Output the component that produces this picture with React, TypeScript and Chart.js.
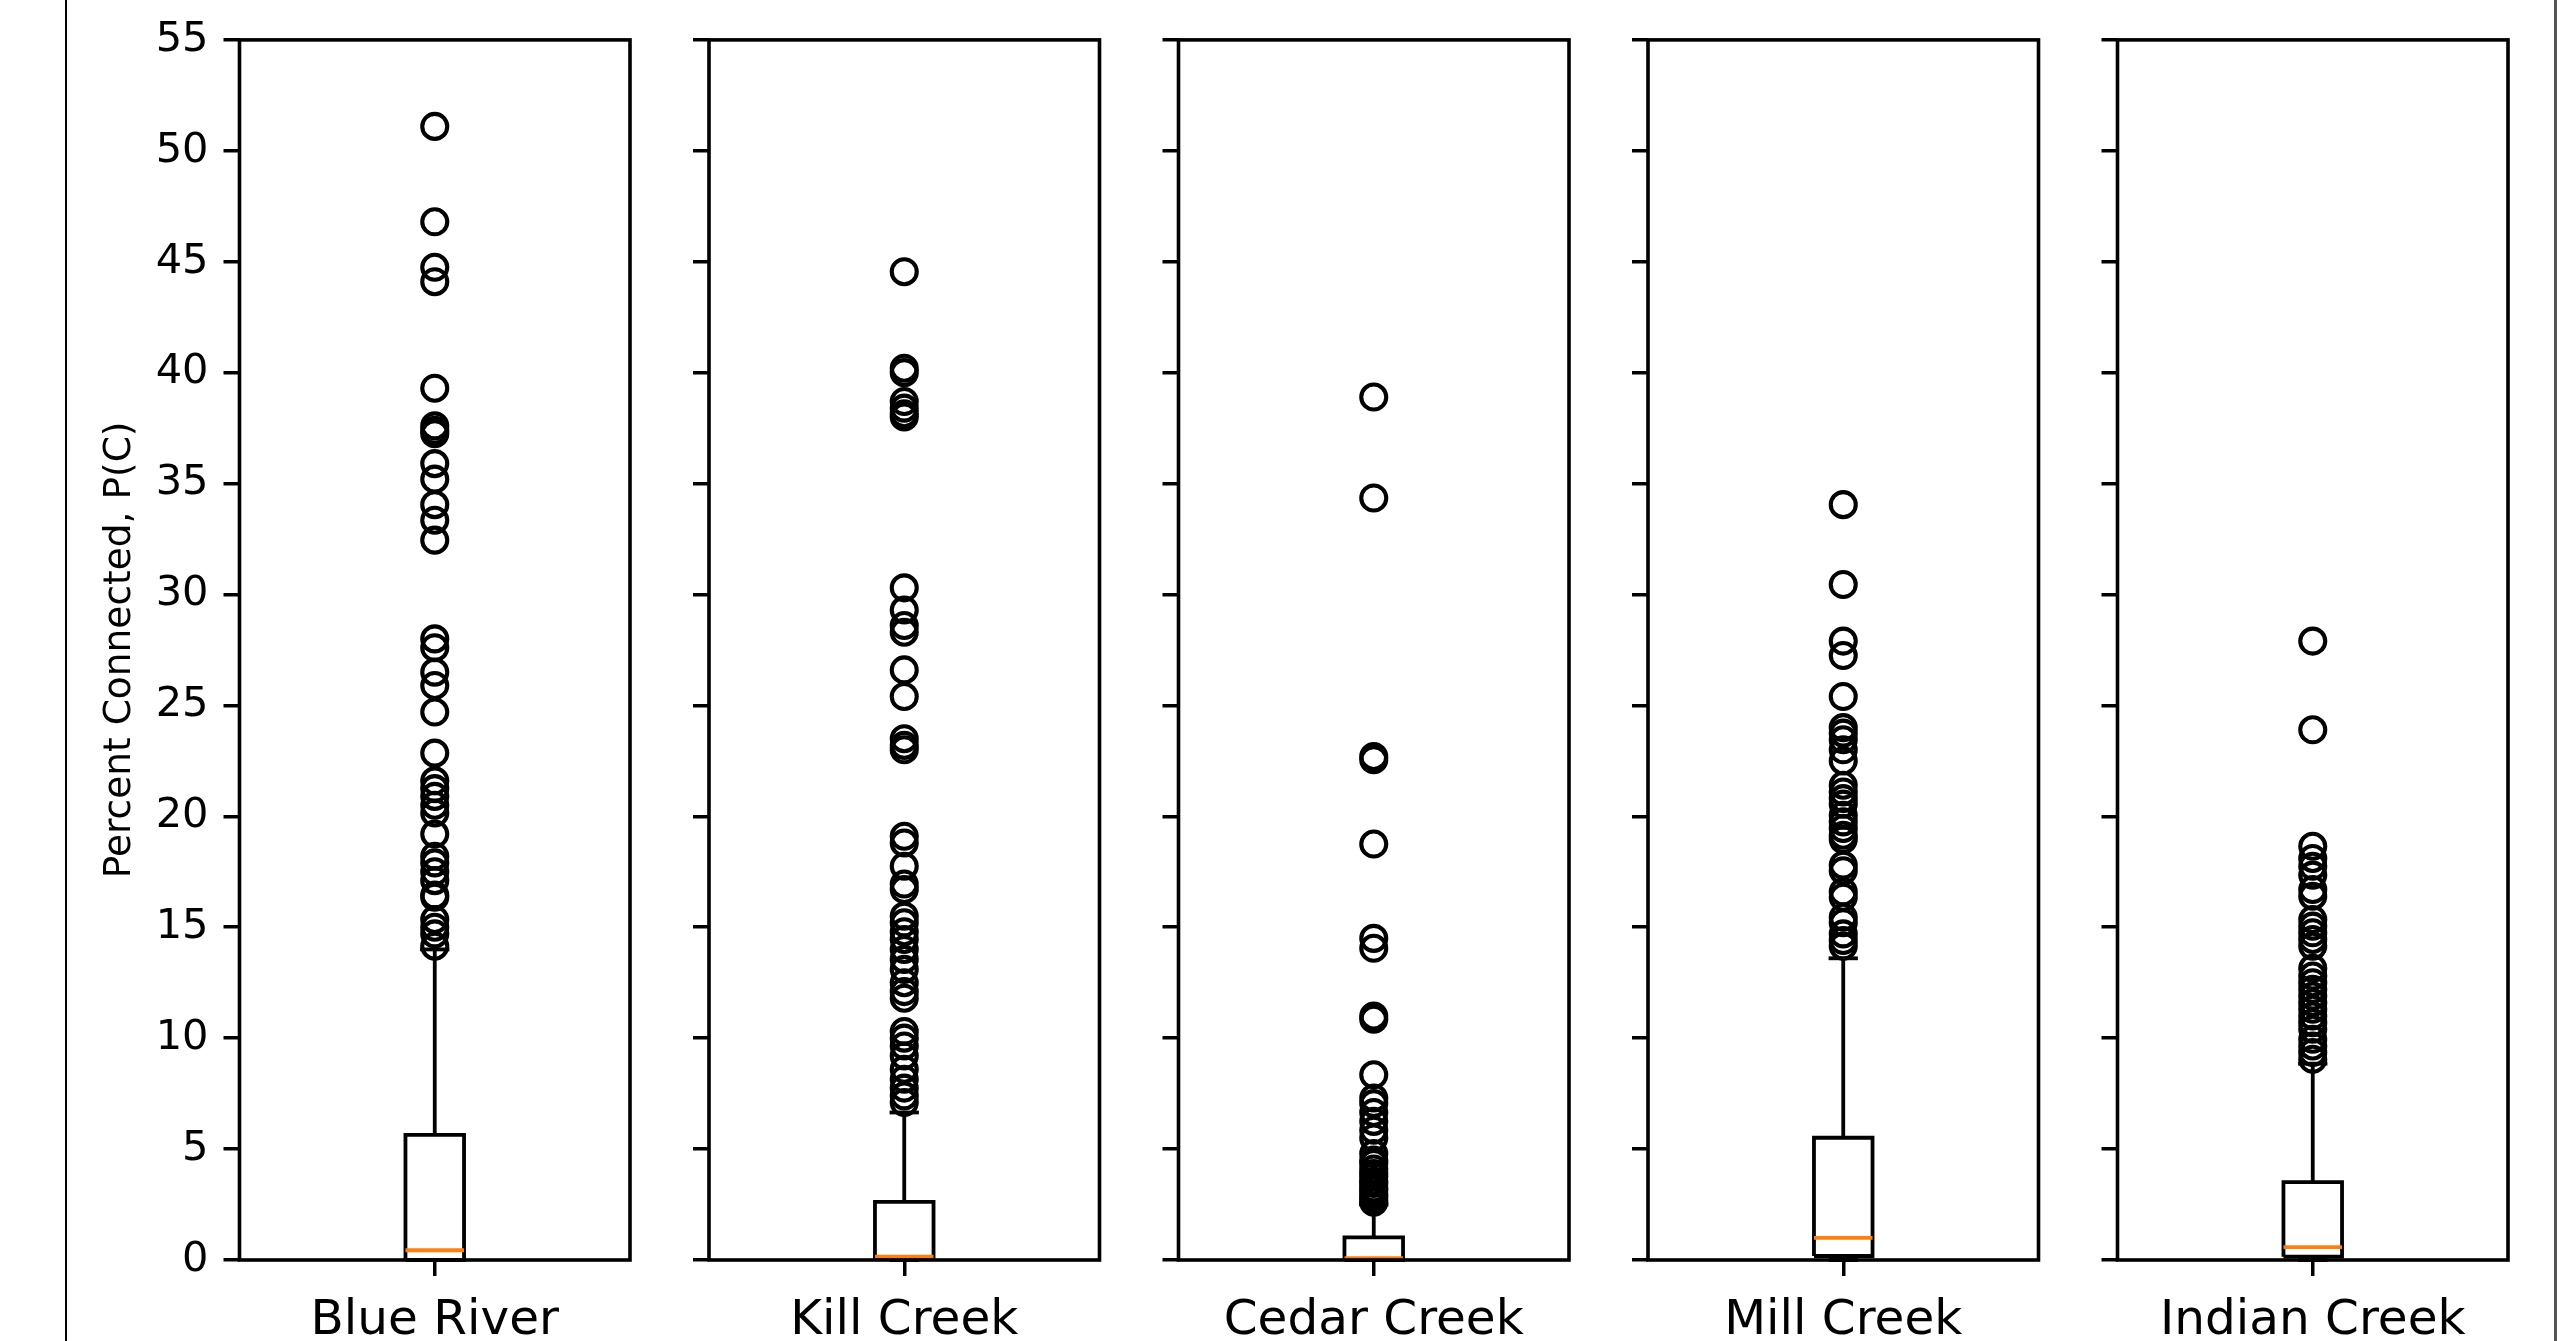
import { useEffect, useRef } from 'react';
import { Chart, registerables } from 'chart.js';

Chart.register(...registerables);

// ---------------- data ----------------
const categories = ['Blue River', 'Kill Creek', 'Cedar Creek', 'Mill Creek', 'Indian Creek'];
const whiskerLow = [0, 0, 0, 0, 0];
const boxLow = [0.0, 0.05, 0.0, 0.18, 0.15];
const medians = [0.44, 0.15, 0.08, 1.0, 0.58];
const boxHigh = [5.64, 2.62, 1.02, 5.51, 3.51];
const whiskerHigh = [14.0, 6.65, 2.5, 13.6, 8.85];

const blueRiverOutliers = [
  51.1, 46.8, 44.75, 44.1, 39.3, 37.6, 37.4, 37.25, 35.9, 35.2, 34.05, 33.35, 32.45,
  28.0, 27.6, 26.5, 25.9, 24.7, 22.85, 21.6, 21.25, 20.9, 20.5, 20.15, 19.2, 18.2,
  17.9, 17.5, 17.1, 16.45, 16.35, 15.35, 15.0, 14.7, 14.15,
];
const killCreekOutliers = [
  44.55, 40.2, 40.0, 38.7, 38.4, 38.15, 38.0, 30.3, 29.3, 28.6, 28.3, 26.6, 25.4,
  23.5, 23.2, 23.0, 19.1, 18.8, 17.75, 16.95, 16.7, 15.5, 15.2, 14.8, 14.45, 14.0,
  13.55, 13.1, 12.5, 12.1, 11.8, 10.3, 10.0, 9.65, 9.2, 8.6, 8.15, 7.75, 7.4, 7.1,
];
const cedarCreekOutliers = [
  38.9, 34.35, 22.7, 22.55, 18.75, 14.5, 14.05, 11.0, 10.85, 8.35, 7.3, 7.05, 6.65,
  6.25, 5.85, 5.5, 4.8, 4.5, 4.35, 4.1, 3.9, 3.75, 3.55, 3.45, 3.25, 3.15, 2.95,
  2.85, 2.7, 2.6,
];
const millCreekOutliers = [
  34.05, 30.45, 27.9, 27.25, 25.4, 24.0, 23.75, 23.45, 23.0, 22.5, 21.4, 21.1, 20.8,
  20.55, 20.05, 19.75, 19.45, 19.15, 18.95, 17.8, 17.55, 16.6, 16.35, 15.45, 15.2,
  14.7, 14.4, 14.15,
];
const indianCreekOutliers = [
  27.9, 23.9, 18.65, 18.1, 17.75, 17.35, 16.7, 16.4, 15.35, 15.05, 14.75, 14.45,
  14.15, 13.15, 12.8, 12.5, 12.2, 11.9, 11.6, 11.3, 11.0, 10.7, 10.4, 9.95, 9.65,
  9.35, 9.05,
];
const outlierSeries = [
  blueRiverOutliers,
  killCreekOutliers,
  cedarCreekOutliers,
  millCreekOutliers,
  indianCreekOutliers,
];

const yTickValues = [0, 5, 10, 15, 20, 25, 30, 35, 40, 45, 50, 55];
const yTitle = 'Percent Connected, P(C)';

// ---------------- layout / style ----------------
const FIG_W = 2570;
const FIG_H = 1341;
const PLOT_TOP = 39.5;
const PLOT_BOTTOM = 1260;
const PANEL_LEFT0 = 239.5;
const PANEL_STEP = 469.5;
const PANEL_W = 390.5;
const POS = 1;
const BOX_HALF = 0.075;
const CAP_HALF = 0.0375;
const FONT = "'DejaVu Sans', 'Liberation Sans', sans-serif";
const LW = 3.8;
const ORANGE = '#ff7f0e';

const framePlugin = {
  id: 'frame',
  afterDraw(chart: any) {
    const { ctx, chartArea } = chart;
    ctx.save();
    ctx.strokeStyle = '#000';
    ctx.lineWidth = 3.6;
    ctx.lineJoin = 'miter';
    ctx.strokeRect(
      chartArea.left,
      chartArea.top,
      chartArea.right - chartArea.left,
      chartArea.bottom - chartArea.top
    );
    ctx.restore();
  },
};

function geometry(index: number) {
  const left = PANEL_LEFT0 + PANEL_STEP * index;
  const canvasLeft = index === 0 ? 0 : Math.floor(left - 40);
  const axisW = left - canvasLeft;
  const canvasW = Math.ceil(axisW + PANEL_W + 30);
  const padRight = canvasW - axisW - PANEL_W;
  return { canvasLeft, axisW, canvasW, padRight };
}

function segment(points: { x: number; y: number }[], color: string) {
  return {
    type: 'scatter' as const,
    data: points,
    showLine: true,
    borderColor: color,
    backgroundColor: color,
    borderWidth: LW,
    borderJoinStyle: 'miter' as const,
    borderCapStyle: 'butt' as const,
    pointRadius: 0,
    pointHoverRadius: 0,
    fill: false,
    tension: 0,
    clip: false as any,
  };
}

function Panel({ index }: { index: number }) {
  const ref = useRef<HTMLCanvasElement>(null);
  const g = geometry(index);

  useEffect(() => {
    if (!ref.current) return;
    const q1 = boxLow[index];
    const q3 = boxHigh[index];
    const med = medians[index];
    const lo = whiskerLow[index];
    const hi = whiskerHigh[index];

    const datasets: any[] = [
      {
        type: 'scatter',
        data: outlierSeries[index].map((v) => ({ x: POS, y: v })),
        showLine: false,
        pointStyle: 'circle',
        pointRadius: 12.5,
        pointHoverRadius: 12.5,
        pointBorderWidth: 4.1,
        pointBorderColor: '#000',
        pointBackgroundColor: 'rgba(0,0,0,0)',
        clip: false,
      },
      segment(
        [
          { x: POS - BOX_HALF, y: med },
          { x: POS + BOX_HALF, y: med },
        ],
        ORANGE
      ),
      segment(
        [
          { x: POS - BOX_HALF, y: q1 },
          { x: POS + BOX_HALF, y: q1 },
          { x: POS + BOX_HALF, y: q3 },
          { x: POS - BOX_HALF, y: q3 },
          { x: POS - BOX_HALF, y: q1 },
        ],
        '#000'
      ),
      segment(
        [
          { x: POS - CAP_HALF, y: hi },
          { x: POS + CAP_HALF, y: hi },
        ],
        '#000'
      ),
      segment(
        [
          { x: POS - CAP_HALF, y: lo },
          { x: POS + CAP_HALF, y: lo },
        ],
        '#000'
      ),
      segment(
        [
          { x: POS, y: q3 },
          { x: POS, y: hi },
        ],
        '#000'
      ),
      segment(
        [
          { x: POS, y: q1 },
          { x: POS, y: lo },
        ],
        '#000'
      ),
    ];

    const chart = new Chart(ref.current, {
      type: 'scatter',
      data: { datasets },
      plugins: [framePlugin],
      options: {
        animation: false,
        responsive: false,
        devicePixelRatio: 1,
        events: [],
        layout: {
          padding: { left: 0, top: PLOT_TOP, right: g.padRight, bottom: 0 },
        },
        plugins: {
          legend: { display: false },
          tooltip: { enabled: false },
          title: { display: false },
        },
        scales: {
          x: {
            type: 'linear',
            position: 'bottom',
            min: 0.5,
            max: 1.5,
            afterBuildTicks: (scale: any) => {
              scale.ticks = [{ value: POS }];
            },
            afterFit: (scale: any) => {
              scale.height = FIG_H - PLOT_BOTTOM;
            },
            border: { display: false },
            grid: {
              display: true,
              drawOnChartArea: false,
              drawTicks: true,
              tickLength: 16,
              tickColor: '#000',
              tickWidth: 3.5,
              color: '#000',
              lineWidth: 3.5,
            },
            ticks: {
              autoSkip: false,
              maxRotation: 0,
              minRotation: 0,
              padding: 16,
              color: '#000',
              font: { family: FONT, size: 48.5 },
              callback: () => categories[index],
            },
          },
          y: {
            type: 'linear',
            position: 'left',
            min: 0,
            max: 55,
            afterBuildTicks: (scale: any) => {
              scale.ticks = yTickValues.map((v) => ({ value: v }));
            },
            afterFit: (scale: any) => {
              scale.width = g.axisW;
            },
            border: { display: false },
            grid: {
              display: true,
              drawOnChartArea: false,
              drawTicks: true,
              tickLength: 16,
              tickColor: '#000',
              tickWidth: 3.5,
              color: '#000',
              lineWidth: 3.5,
            },
            ticks: {
              autoSkip: false,
              padding: 15,
              color: '#000',
              font: { family: FONT, size: 41.5 },
              callback: (v: any) => (index === 0 ? String(v) : ''),
            },
            title: {
              display: index === 0,
              text: yTitle,
              color: '#000',
              font: { family: FONT, size: 37.5 },
              padding: { top: 97.5, bottom: 0 },
            },
          },
        },
      } as any,
    });
    return () => chart.destroy();
  }, [index]);

  return (
    <canvas
      ref={ref}
      width={g.canvasW}
      height={FIG_H}
      style={{
        position: 'absolute',
        left: g.canvasLeft,
        top: 0,
        width: g.canvasW,
        height: FIG_H,
      }}
    />
  );
}

export default function App() {
  return (
    <div
      style={{
        position: 'fixed',
        left: 0,
        top: 0,
        width: FIG_W,
        height: FIG_H,
        background: '#fff',
        overflow: 'hidden',
      }}
    >
      <div
        style={{
          position: 'absolute',
          left: 65,
          top: 0,
          width: 2,
          height: FIG_H,
          background: '#000',
        }}
      />
      <div
        style={{
          position: 'absolute',
          left: 2554,
          top: 0,
          width: 3,
          height: FIG_H,
          background: '#555',
        }}
      />
      {categories.map((c, i) => (
        <Panel key={c} index={i} />
      ))}
    </div>
  );
}
